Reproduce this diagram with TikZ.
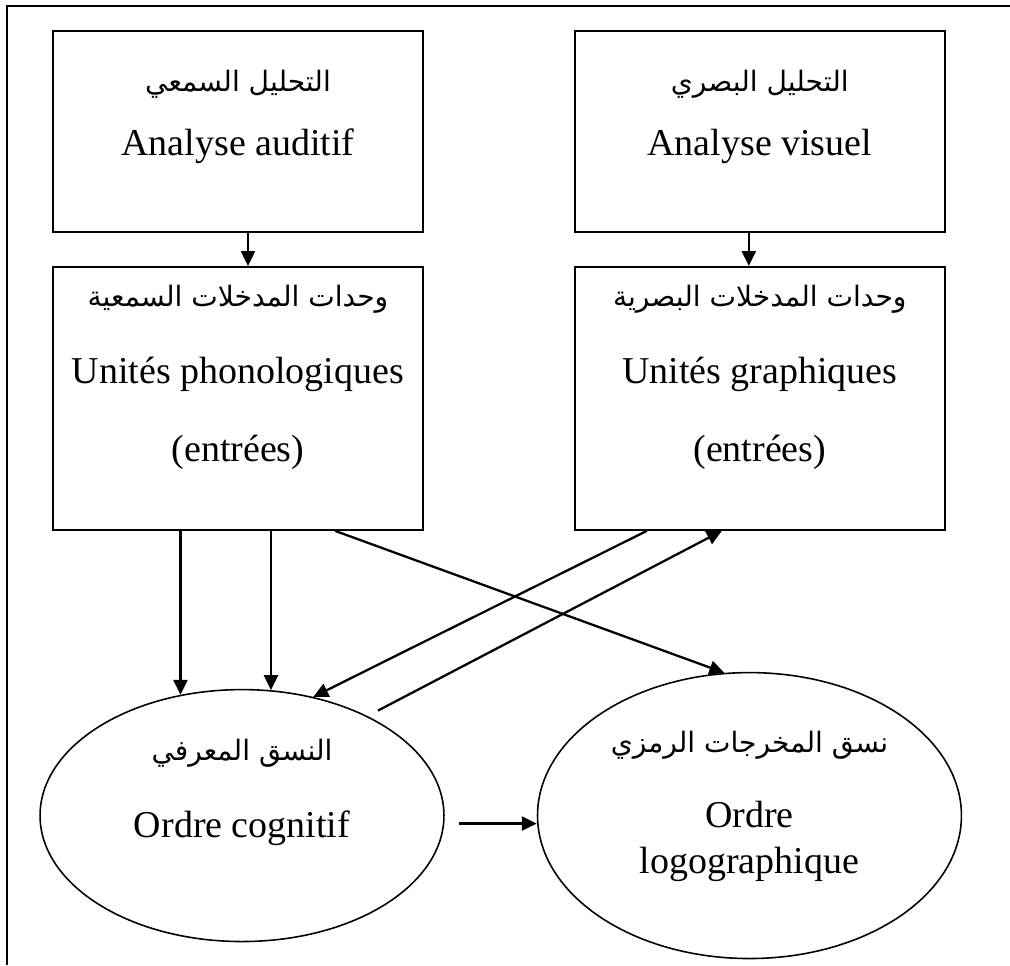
\documentclass[tikz,border=0pt]{standalone}
\usepackage{fontspec}
\setmainfont{Liberation Serif}
\newfontfamily\arabicfont[Script=Arabic]{DejaVu Sans}
\TeXXeTstate=1
\usetikzlibrary{shapes,arrows.meta,positioning}

\begin{document}
\begin{tikzpicture}[
    x=0.02cm, y=-0.02cm,
    node distance=0.66cm,
    box/.style={rectangle, draw, line width=1.1pt, minimum width=7.4cm,
                minimum height=4.02cm, inner sep=0pt},
    tallbox/.style={box, minimum height=5.26cm},
    oval/.style={ellipse, draw, line width=0.9pt, inner sep=0pt},
    lat/.style={font=\fontsize{21.6}{26}\selectfont, inner sep=0pt},
    arab/.style={font=\fontsize{16}{20}\selectfont\arabicfont, inner sep=0pt},
    arr/.style={-{Triangle[length=8.5pt,width=8pt]}, line width=1.3pt}
]
\useasboundingbox (0,0) rectangle (1010,965);

%% frame (top and left only)
\draw[line width=1.2pt] (7,965) -- (7,6) -- (1010,6);

%% analysis boxes
\node[box] (aud) at (238,131.5) {};
\node[box, right=3.0cm of aud] (vis) {};
\node[arab] (audar) at ([yshift=-1.08cm]aud.north) {\beginR التحليل السمعي\endR};
\node[lat]  (audfr) at ([yshift=-2.32cm]aud.north) {Analyse auditif};
\node[arab] (visar) at ([yshift=-1.08cm]vis.north) {\beginR التحليل البصري\endR};
\node[lat]  (visfr) at ([yshift=-2.32cm]vis.north) {Analyse visuel};

%% input units
\node[tallbox, below=of aud] (phon) {};
\node[tallbox, below=of vis] (graph) {};
\node[arab] (phonar) at ([yshift=-0.66cm]phon.north) {\beginR وحدات المدخلات السمعية\endR};
\node[lat]  (phonfr) at ([yshift=-2.16cm]phon.north) {Unités phonologiques};
\node[lat]  (phonin) at ([yshift=-3.72cm]phon.north) {(entrées)};
\node[arab] (graphar) at ([yshift=-0.66cm]graph.north) {\beginR وحدات المدخلات البصرية\endR};
\node[lat]  (graphfr) at ([yshift=-2.16cm]graph.north) {Unités graphiques};
\node[lat]  (graphin) at ([yshift=-3.72cm]graph.north) {(entrées)};

%% orders
\node[oval, minimum width=8.08cm, minimum height=5.04cm,
      below=3.16cm of phon, xshift=0.08cm] (cog) {};
\node[oval, minimum width=8.48cm, minimum height=5.72cm,
      right=1.84cm of cog] (logo) {};
\node[arab] (cogar) at ([yshift=1.24cm]cog.center) {\beginR النسق المعرفي\endR};
\node[lat]  (cogfr) at ([yshift=-0.26cm]cog.center) {Ordre cognitif};
\node[arab] (logoar) at ([yshift=1.4cm]logo.center) {\beginR نسق المخرجات الرمزي\endR};
\node[lat]  (logofr) at ([yshift=0.02cm]logo.center) {Ordre};
\node[lat]  (logofrb) at ([yshift=-0.98cm]logo.center) {logographique};

%% connectors
\draw[arr] ([xshift=0.2cm]aud.south) -- ([xshift=0.2cm]phon.north);
\draw[arr] ([xshift=-0.22cm]vis.south) -- ([xshift=-0.22cm]graph.north);
\draw[arr] (phon.south -| cog.117) -- (cog.117);
\draw[arr] (phon.south -| cog.77) -- (cog.77);
\draw[arr] ([xshift=1.94cm]phon.south) -- (logo.100);
\draw[arr] ([xshift=-2.26cm]graph.south) -- (cog.59);
\coordinate (cogout) at ([shift={(136,-105)}]cog.center);
\draw[arr] (cogout) -- ([xshift=-0.76cm]graph.south);
\coordinate (cogright) at ([shift={(217,8)}]cog.center);
\draw[arr] (cogright) -- (cogright -| logo.west);

\end{tikzpicture}
\end{document}
